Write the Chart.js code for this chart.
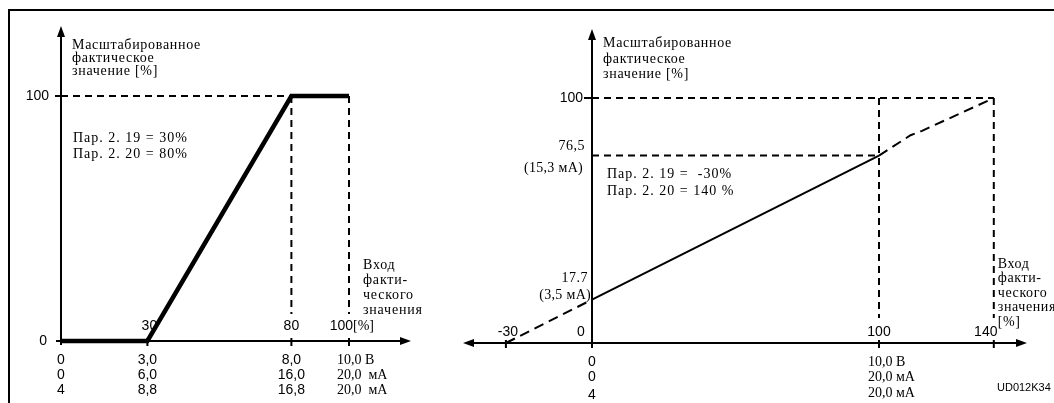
<!DOCTYPE html>
<html>
<head>
<meta charset="utf-8">
<script src="https://cdn.jsdelivr.net/npm/chart.js@4.4.1/dist/chart.umd.min.js"></script>
<style>
body { margin: 0; background: #fff; }
#wrap { position: relative; width: 1054px; height: 403px; overflow: hidden; background: #fff; }
canvas { position: absolute; left: 0; top: 0; }
</style>
</head>
<body>
<div id="wrap">
<canvas id="leftChart" width="1054" height="403"></canvas>
<canvas id="rightChart" width="1054" height="403"></canvas>
</div>
<script>
// left diagram: Par 2.19 = 30%, Par 2.20 = 80%
const leftInput = [0, 30, 80, 100];
const leftScaled = [0, 0, 100, 100];
const leftTicks = [30, 80, 100];
const leftGuides = [80, 100];
const leftRowAt = [0, 30, 80];
const leftRowVolt = ["0", "3,0", "8,0"];
const leftRowMa0 = ["0", "6,0", "16,0"];
const leftRowMa4 = ["4", "8,8", "16,8"];
const leftEndRows = ["10,0 В", "20,0  мА", "20,0  мА"];

// right diagram: Par 2.19 = -30%, Par 2.20 = 140%
const rightInput = [-30, 0, 100, 111, 115, 140];
const rightScaled = [0, 17.7, 76.5, 84.8, 86.6, 100];
const rightTicks = [-30, 0, 100, 140];
const rightGuidesX = [100, 140];
const rightGuidesY = [76.5, 100];
const rightRowZero = ["0", "0", "4"];
const rightEndRows = ["10,0 В", "20,0 мА", "20,0 мА"];

const SANS = "14px 'Liberation Sans', Arial, sans-serif";
const SERIF = "14px 'Liberation Serif', 'Times New Roman', serif";

function line(ctx, x1, y1, x2, y2)
{
    ctx.beginPath();
    ctx.moveTo(x1, y1);
    ctx.lineTo(x2, y2);
    ctx.stroke();
}

function arrow(ctx, x, y, dx, dy)
{
    let len = 11, w = 4;
    ctx.beginPath();
    ctx.moveTo(x, y);
    ctx.lineTo(x - dx * len - dy * w, y - dy * len + dx * w);
    ctx.lineTo(x - dx * len + dy * w, y - dy * len - dx * w);
    ctx.closePath();
    ctx.fill();
}

function txt(ctx, s, x, y, font, align, spacing)
{
    ctx.font = font;
    ctx.letterSpacing = (spacing || 0) + "px";
    ctx.textAlign = align || "left";
    ctx.textBaseline = "middle";
    ctx.fillText(s, x, y);
    ctx.letterSpacing = "0px";
}

const leftDecor = {
    id: "leftDecor",
    beforeDatasetsDraw(chart) {
        const ctx = chart.ctx;
        const xs = chart.scales.x, ys = chart.scales.y;
        const x0 = xs.getPixelForValue(0);
        const y0 = ys.getPixelForValue(0);
        const y100 = ys.getPixelForValue(100);
        ctx.save();
        ctx.strokeStyle = "#000";
        ctx.fillStyle = "#000";
        // frame
        ctx.lineWidth = 2;
        line(ctx, 8, 10, 1054, 10);
        line(ctx, 9, 10, 9, 403);
        // axes
        line(ctx, x0, y0 + 4, x0, 35);
        arrow(ctx, x0, 26, 0, -1);
        line(ctx, x0 - 4, y0, 402, y0);
        arrow(ctx, 411, y0, 1, 0);
        line(ctx, x0 - 6, y100, x0, y100);
        line(ctx, x0 - 5, y0, x0, y0);
        leftTicks.forEach(v => {
            let px = xs.getPixelForValue(v);
            line(ctx, px, y0 - 3, px, y0 + 5);
        });
        // guides
        ctx.setLineDash([7, 5]);
        line(ctx, x0, y100, xs.getPixelForValue(80), y100);
        leftGuides.forEach(v => {
            let px = xs.getPixelForValue(v);
            line(ctx, px, y100, px, y0 - 27);
        });
        ctx.restore();
    },
    afterDraw(chart) {
        const ctx = chart.ctx;
        const xs = chart.scales.x, ys = chart.scales.y;
        const x0 = xs.getPixelForValue(0);
        const y0 = ys.getPixelForValue(0);
        ctx.save();
        ctx.fillStyle = "#000";
        txt(ctx, "100", x0 - 12, ys.getPixelForValue(100), SANS, "right");
        txt(ctx, "0", x0 - 14, y0, SANS, "right");
        txt(ctx, "Масштабированное", x0 + 11, 45, SERIF, "left", 0.7);
        txt(ctx, "фактическое", x0 + 11, 58, SERIF, "left", 0.7);
        txt(ctx, "значение [%]", x0 + 11, 71, SERIF, "left", 0.7);
        txt(ctx, "Пар. 2. 19 = 30%", x0 + 12, 138, SERIF, "left", 1);
        txt(ctx, "Пар. 2. 20 = 80%", x0 + 12, 154, SERIF, "left", 1);
        txt(ctx, "30", xs.getPixelForValue(30) + 2, y0 - 15, SANS, "center");
        txt(ctx, "80", xs.getPixelForValue(80), y0 - 15, SANS, "center");
        txt(ctx, "100", xs.getPixelForValue(100) + 4, y0 - 15, SANS, "right");
        txt(ctx, "[%]", xs.getPixelForValue(100) + 4, y0 - 15, SERIF);
        let tx = xs.getPixelForValue(100) + 14;
        ["Вход", "факти-", "ческого", "значения"].forEach((s, i) => {
            txt(ctx, s, tx, y0 - 76 + i * 15, SERIF, "left", 0.8);
        });
        leftRowAt.forEach((v, i) => {
            let px = xs.getPixelForValue(v);
            txt(ctx, leftRowVolt[i], px, y0 + 19, SANS, "center");
            txt(ctx, leftRowMa0[i], px, y0 + 34, SANS, "center");
            txt(ctx, leftRowMa4[i], px, y0 + 49, SANS, "center");
        });
        leftEndRows.forEach((s, i) => {
            txt(ctx, s, xs.getPixelForValue(100) - 12, y0 + 19 + i * 15, SERIF);
        });
        ctx.restore();
    }
};

const rightDecor = {
    id: "rightDecor",
    beforeDatasetsDraw(chart) {
        const ctx = chart.ctx;
        const xs = chart.scales.x, ys = chart.scales.y;
        const x0 = xs.getPixelForValue(0);
        const y0 = ys.getPixelForValue(0);
        ctx.save();
        ctx.strokeStyle = "#000";
        ctx.fillStyle = "#000";
        ctx.lineWidth = 2;
        // axes
        line(ctx, x0, y0 + 4, x0, 38);
        arrow(ctx, x0, 29, 0, -1);
        line(ctx, 472, y0, 1018, y0);
        arrow(ctx, 1027, y0, 1, 0);
        arrow(ctx, 463, y0, -1, 0);
        line(ctx, x0 - 8, ys.getPixelForValue(100), x0, ys.getPixelForValue(100));
        rightTicks.forEach(v => {
            let px = xs.getPixelForValue(v);
            line(ctx, px, y0 - 3, px, y0 + 5);
        });
        // guides
        ctx.setLineDash([7, 5]);
        rightGuidesY.forEach((v, i) => {
            let py = ys.getPixelForValue(v);
            line(ctx, x0, py, xs.getPixelForValue(rightGuidesX[i]), py);
        });
        rightGuidesX.forEach(v => {
            let px = xs.getPixelForValue(v);
            line(ctx, px, ys.getPixelForValue(100), px, y0 - 25);
        });
        ctx.restore();
    },
    afterDraw(chart) {
        const ctx = chart.ctx;
        const xs = chart.scales.x, ys = chart.scales.y;
        const x0 = xs.getPixelForValue(0);
        const y0 = ys.getPixelForValue(0);
        const p765 = ys.getPixelForValue(76.5);
        const p177 = ys.getPixelForValue(17.7);
        ctx.save();
        ctx.fillStyle = "#000";
        txt(ctx, "100", x0 - 9, ys.getPixelForValue(100), SANS, "right");
        txt(ctx, "76,5", x0 - 7, p765 - 9, SERIF, "right", 0.5);
        txt(ctx, "(15,3 мА)", x0 - 9, p765 + 13, SERIF, "right", 0.3);
        txt(ctx, "17.7", x0 - 4, p177 - 21, SERIF, "right", 0.5);
        txt(ctx, "(3,5 мА)", x0 - 1, p177 - 4, SERIF, "right", 0.3);
        txt(ctx, "Масштабированное", x0 + 11, 43, SERIF, "left", 0.7);
        txt(ctx, "фактическое", x0 + 11, 59, SERIF, "left", 0.7);
        txt(ctx, "значение [%]", x0 + 11, 74, SERIF, "left", 0.7);
        txt(ctx, "Пар. 2. 19 =  -30%", x0 + 15, 174, SERIF, "left", 1);
        txt(ctx, "Пар. 2. 20 = 140 %", x0 + 15, 191, SERIF, "left", 1);
        txt(ctx, "-30", xs.getPixelForValue(-30) + 2, y0 - 11, SANS, "center");
        txt(ctx, "0", x0 - 11, y0 - 11, SANS, "center");
        txt(ctx, "100", xs.getPixelForValue(100), y0 - 11, SANS, "center");
        txt(ctx, "140", xs.getPixelForValue(140) - 8, y0 - 11, SANS, "center");
        let tx = xs.getPixelForValue(140) + 4;
        ["Вход", "факти-", "ческого", "значения", "[%]"].forEach((s, i) => {
            txt(ctx, s, tx, y0 - 79 + i * 14.5, SERIF, "left", 0.6);
        });
        rightRowZero.forEach((s, i) => {
            txt(ctx, s, x0, y0 + 19 + i * 15 + (i == 2 ? 3 : 0), SANS, "center");
        });
        rightEndRows.forEach((s, i) => {
            txt(ctx, s, xs.getPixelForValue(100) - 11, y0 + 19 + i * 15.5, SERIF);
        });
        txt(ctx, "UD012K34", 997, 388, "11px 'Liberation Sans', Arial, sans-serif");
        ctx.restore();
    }
};

function baseOptions(xMin, xMax, padding)
{
    return {
        responsive: false,
        animation: false,
        events: [],
        layout: { padding: padding },
        scales: {
            x: { type: "linear", min: xMin, max: xMax, display: false },
            y: { type: "linear", min: 0, max: 100, display: false }
        },
        plugins: {
            legend: { display: false },
            tooltip: { enabled: false }
        }
    };
}

new Chart(
    document.getElementById("leftChart"),
    {
        type: "scatter",
        data: {
            datasets: [{
                data: leftInput.map((v, i) => ({ x: v, y: leftScaled[i] })),
                showLine: true,
                borderColor: "#000",
                borderWidth: 4.5,
                borderJoinStyle: "miter",
                pointRadius: 0,
                clip: false
            }]
        },
        options: baseOptions(0, 100, { left: 61, right: 705, top: 96, bottom: 62 }),
        plugins: [leftDecor]
    }
);

// right x: -30 .. 140 mapped so that 0 sits at 592 and 100 at 879
new Chart(
    document.getElementById("rightChart"),
    {
        type: "scatter",
        data: {
            datasets: [{
                data: rightInput.map((v, i) => ({ x: v, y: rightScaled[i] })),
                showLine: true,
                borderColor: "#000",
                borderWidth: 2,
                pointRadius: 0,
                clip: false,
                segment: {
                    borderDash: ctx =>
                        (ctx.p0.parsed.x < 0 || ctx.p0.parsed.x >= 100) ? [10, 6] : undefined
                }
            }]
        },
        options: baseOptions(-30, 140, { left: 505.9, right: 60.2, top: 98, bottom: 60 }),
        plugins: [rightDecor]
    }
);
</script>
</body>
</html>
